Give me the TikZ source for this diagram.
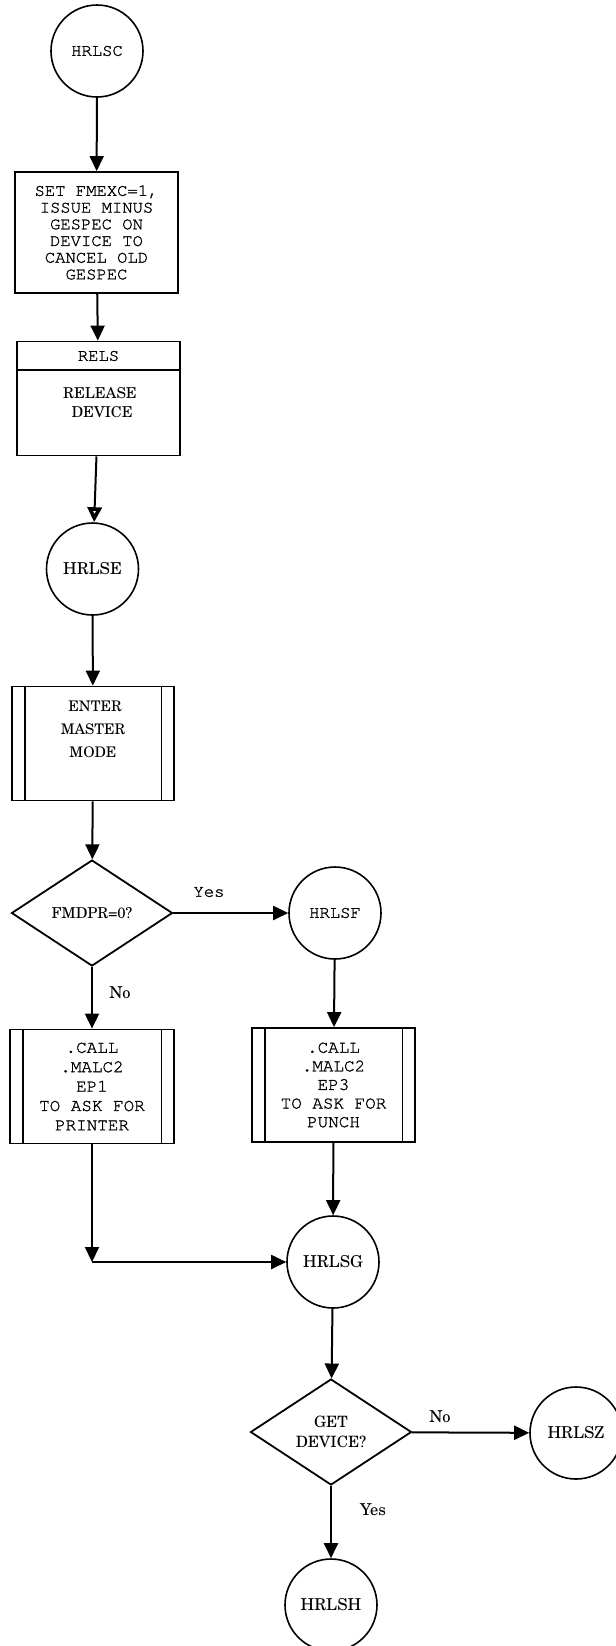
\documentclass[tikz,border=0pt]{standalone}
\usepackage{fontspec}
\setmainfont{TeX Gyre Schola}
\setmonofont{TeX Gyre Cursor}[FakeBold=1.2]
\usetikzlibrary{shapes.geometric,arrows.meta}

\begin{document}
\begin{tikzpicture}[x=0.5pt,y=-0.5pt,
		tt/.style={font=\fontsize{8.6}{8.4}\selectfont\ttfamily},
		rm/.style={font=\fontsize{8.2}{10}\selectfont, align=center},
		conn/.style={circle, draw, line width=0.8pt, minimum size=46pt, inner sep=0pt},
		boite/.style={rectangle, draw, line width=0.9pt, minimum width=81.5pt, minimum height=57pt, inner sep=0pt, align=center},
		test/.style={diamond, draw, line width=0.9pt, minimum width=80.5pt, minimum height=53pt, inner sep=0pt, aspect=1.5, align=center},
		fleche/.style={line width=1pt, -{Triangle[length=7.5pt,width=7pt]}}]

	\useasboundingbox (0,0) rectangle (616,1646);

	% Colonne de gauche
	\node[conn, tt] (hrlsc) at (97,51) {HRLSC};
	\node[boite, tt, minimum height=60.5pt, font=\fontsize{8.6}{8.35}\selectfont\ttfamily] (fmexc) at (96.5,232.5)
		{SET FMEXC=1,\\ ISSUE MINUS\\GESPEC ON\\ DEVICE TO\\CANCEL OLD\\GESPEC};
	\node[boite] (rels) at (98.5,398.5) {};
	\draw[line width=0.9pt] (rels.west |- 0,370) -- (rels.east |- 0,370);
	\node[tt] (rels-tete) at (98.5,356) {RELS};
	\node[rm, font=\fontsize{7.5}{9.5}\selectfont] (rels-txt) at (100,403) {RELEASE\\ \ DEVICE};
	\node[conn, rm] (hrlse) at (92.5,569) {HRLSE};
	\node[boite, minimum width=81pt] (master) at (93,743.5) {};
	\node[rm, font=\fontsize{7.3}{11.5}\selectfont] (master-txt) at (93,729) {\ ENTER\\MASTER\\MODE};
	\node[test, rm, font=\fontsize{7.5}{10}\selectfont] (fmdpr) at (92,913) {FMDPR=0?};
	\node[boite, tt, minimum width=82pt, font=\fontsize{8.8}{9.7}\selectfont\ttfamily] (printer) at (92,1086.5)
		{.CALL\\.MALC2\\EP1\\TO ASK FOR\\PRINTER};

	% Colonne de droite
	\node[conn, tt] (hrlsf) at (335,913) {HRLSF};
	\node[boite, tt, font=\fontsize{8.8}{9.3}\selectfont\ttfamily] (punch) at (333.5,1085)
		{.CALL\\.MALC2\\EP3\\TO ASK FOR\\PUNCH};
	\node[conn, rm] (hrlsg) at (333,1262) {HRLSG};
	\node[test, rm, font=\fontsize{7.8}{10}\selectfont] (device) at (331,1432) {GET\\DEVICE?};
	\node[conn, rm] (hrlsz) at (576,1433) {HRLSZ};
	\node[conn, rm] (hrlsh) at (331,1605) {HRLSH};
	\coordinate (coin) at (92,1262);

	% Bandes des sous-programmes
	\foreach \b in {master, printer, punch}{
		\draw[line width=0.9pt] ([xshift=6.75pt]\b.north west) -- ([xshift=6.75pt]\b.south west);
		\draw[line width=0.9pt] ([xshift=-6.75pt]\b.north east) -- ([xshift=-6.75pt]\b.south east);
	}

	% Liaisons
	\draw[fleche] (hrlsc) -- (fmexc);
	\draw[fleche] (fmexc) -- (rels);
	\draw[line width=1pt, -{Triangle[open,length=7.5pt,width=7pt,line width=1.8pt]}] (rels) -- (hrlse);
	\draw[fleche] (hrlse) -- (master);
	\draw[fleche] (master) -- (fmdpr);
	\draw[fleche] (fmdpr) -- (hrlsf);
	\draw[fleche] (fmdpr) -- (printer);
	\draw[fleche] (hrlsf) -- (punch);
	\draw[fleche] (punch) -- (hrlsg);
	\draw[fleche] (printer) -- (coin);
	\draw[fleche] (coin) -- (hrlsg);
	\draw[fleche] (hrlsg) -- (device);
	\draw[fleche] (device) -- (hrlsz);
	\draw[fleche] (device) -- (hrlsh);

	% Etiquettes
	\node[tt] (oui1) at (209,892) {Yes};
	\node[rm] (non1) at (120,993) {No};
	\node[rm] (non2) at (440,1417) {No};
	\node[rm] (oui2) at (373,1510) {Yes};
\end{tikzpicture}
\end{document}
